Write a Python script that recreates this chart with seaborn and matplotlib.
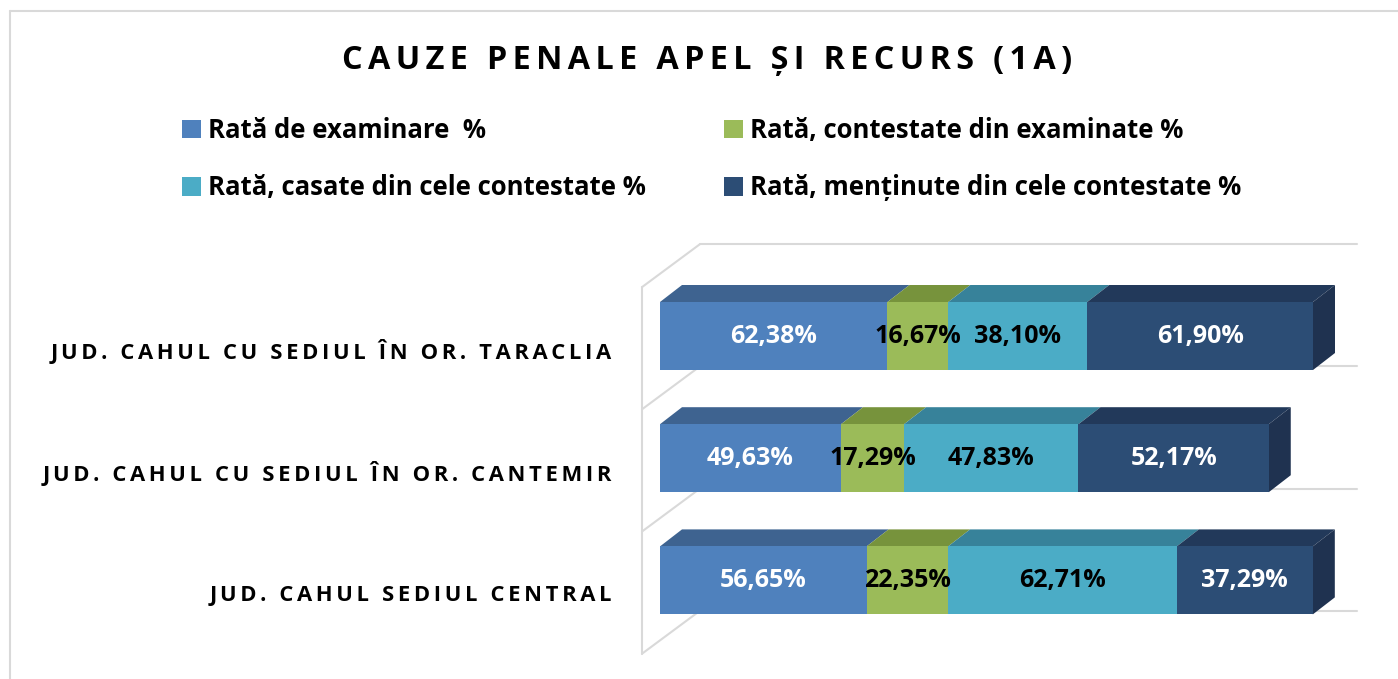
import numpy as np
import pandas as pd
import matplotlib
matplotlib.use('Agg')
import matplotlib.pyplot as plt
import seaborn as sns
from matplotlib.patches import Polygon, Patch
from matplotlib.lines import Line2D

# data
categories = ['JUD. CAHUL CU SEDIUL ÎN OR. TARACLIA',
              'JUD. CAHUL CU SEDIUL ÎN OR. CANTEMIR',
              'JUD. CAHUL SEDIUL CENTRAL']
series = ['Rată de examinare  %',
          'Rată, contestate din examinate %',
          'Rată, casate din cele contestate %',
          'Rată, menținute din cele contestate %']
examinare = [62.38, 49.63, 56.65]
contestate = [16.67, 17.29, 22.35]
casate = [38.10, 47.83, 62.71]
mentinute = [61.90, 52.17, 37.29]

front_colors = ['#4F81BD', '#9BBB59', '#4BACC6', '#2C4D75']
top_colors = ['#3E6390', '#77933C', '#37829A', '#22395A']
side_color = '#1F3250'
label_colors = ['white', 'black', 'black', 'white']
FONT = ['Open Sans', 'DejaVu Sans']
SP = '\u2006'  # letter spacing filler

sns.set_theme(style='white')
plt.rcParams['font.family'] = FONT
plt.rcParams['text.color'] = 'black'

W, H = 1398, 679
fig = plt.figure(figsize=(W / 100, H / 100), dpi=100)

# axes placed so that 1 unit = 3.647 px, category step = 122.2 px
px_per_unit = 3.647
px_per_cat = 122.2
x0_px, y0_px = 660, 336
ax_l, ax_r, ax_t, ax_b = 600, 1398, 230, 670
ax = fig.add_axes([ax_l / W, (H - ax_b) / H, (ax_r - ax_l) / W, (ax_b - ax_t) / H])

df = pd.DataFrame({'cat': categories, 's0': examinare, 's1': contestate,
                   's2': casate, 's3': mentinute})
vals = df[['s0', 's1', 's2', 's3']].to_numpy()
cum = np.cumsum(vals, axis=1)
lefts = cum - vals

bar_h = 68 / px_per_cat
for k in range(3, -1, -1):
    sns.barplot(x=cum[:, k], y=df['cat'], orient='h', color=front_colors[k],
                saturation=1, width=bar_h, errorbar=None, ax=ax, zorder=3,
                linewidth=0)

ax.set_xlim((ax_l - x0_px) / px_per_unit, (ax_r - x0_px) / px_per_unit)
ax.set_ylim((ax_b - y0_px) / px_per_cat, (ax_t - y0_px) / px_per_cat)
ax.axis('off')

# 3d depth of bars
dx = 22 / px_per_unit
dy = 17 / px_per_cat
for i in range(len(categories)):
    yt = i - bar_h / 2
    yb = i + bar_h / 2
    for k in range(4):
        l, r = lefts[i, k], cum[i, k]
        ax.add_patch(Polygon([(l, yt), (r, yt), (r + dx, yt - dy), (l + dx, yt - dy)],
                             closed=True, facecolor=top_colors[k], edgecolor='none', zorder=2))
    r = cum[i, 3]
    ax.add_patch(Polygon([(r, yt), (r, yb), (r + dx, yb - dy), (r + dx, yt - dy)],
                         closed=True, facecolor=side_color, edgecolor='none', zorder=2))
    for k in range(4):
        ax.text((lefts[i, k] + cum[i, k]) / 2, i, f'{vals[i, k]:.2f}%'.replace('.', ','),
                ha='center', va='center', color=label_colors[k], fontsize=18,
                fontweight='bold', zorder=5)
    ax.text((612 - x0_px) / px_per_unit, i + 0.125, SP.join(categories[i]),
            ha='right', va='center', color='black', fontsize=15.8, fontweight='bold')

# walls
wall_x = (642 - x0_px) / px_per_unit
wdx = 58 / px_per_unit
wdy = 43 / px_per_cat
back_end = (1357 - x0_px) / px_per_unit
grid_c = '#D9D9D9'
bounds = np.arange(len(categories) + 1) - 0.4
ax.plot([wall_x, wall_x], [bounds[0], bounds[-1]], color=grid_c, lw=1.5, zorder=0, clip_on=False)
for b in bounds:
    ax.plot([wall_x, wall_x + wdx], [b, b - wdy], color=grid_c, lw=1.5, zorder=0, clip_on=False)
    ax.plot([wall_x + wdx, back_end], [b - wdy, b - wdy], color=grid_c, lw=1.5, zorder=0, clip_on=False)

# title
fig.text(707 / W, 1 - 60 / H, SP.join('CAUZE PENALE APEL ȘI RECURS (1A)'),
         ha='center', va='center', fontsize=23.3, fontweight='bold', color='black')

# legend
handles = [Patch(facecolor=c, edgecolor='none') for c in front_colors]
order = [0, 2, 1, 3]
fig.legend([handles[j] for j in order], [series[j] for j in order], ncol=2,
           loc='upper left', bbox_to_anchor=(182 / W, 1 - 117 / H), frameon=False,
           borderpad=0, borderaxespad=0, handlelength=0.75, handleheight=0.75,
           handletextpad=0.25, columnspacing=3.05, labelspacing=1.18,
           prop={'family': FONT, 'weight': 'bold', 'size': 18.5})

# outer border
fig.add_artist(Line2D([10 / W, 1], [1 - 11 / H, 1 - 11 / H], color=grid_c, lw=1.5))
fig.add_artist(Line2D([10 / W, 10 / W], [0, 1 - 11 / H], color=grid_c, lw=1.5))

fig.savefig('out.png', dpi=100)
